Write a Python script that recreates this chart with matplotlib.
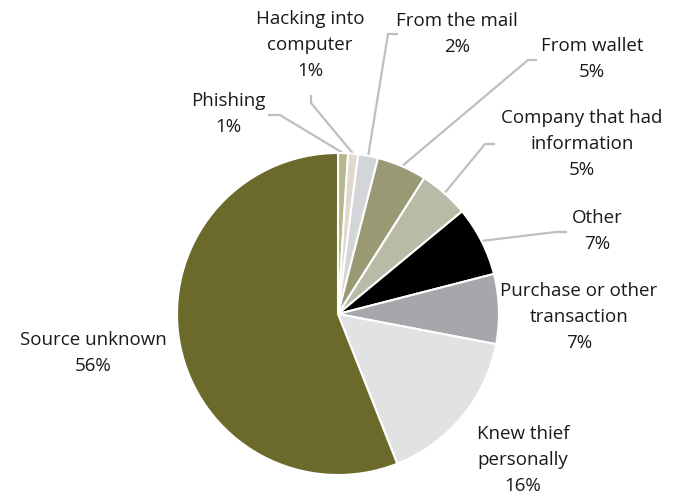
import matplotlib.pyplot as plt
import numpy as np

plt.rcParams['font.family'] = ['Open Sans', 'DejaVu Sans']

labels = ["Phishing", "Hacking into\ncomputer", "From the mail", "From wallet",
          "Company that had\ninformation", "Other", "Purchase or other\ntransaction",
          "Knew thief\npersonally", "Source unknown"]
values = [1, 1, 2, 5, 5, 7, 7, 16, 56]
colors = ["#B4B88D", "#E2D7CC", "#D4D5D8", "#999A73", "#B8BBA6",
          "#000000", "#A6A7AA", "#E1E2E4", "#6B6A2B"]

# label centres (pixels from top-left) and leader elbows
label_pos = [(228, 114), (310, 45), (457, 34), (592, 59), (582, 144),
             (597, 231), (579, 317), (523, 460), (93, 353)]
elbows = [[(280, 115), (268, 115)], [(311, 103), (311, 95)],
          [(388, 34), (398, 34)], [(528, 60), (537, 60)],
          [(485, 144), (495, 144)], [(556, 232), (567, 232)],
          None, None, None]

W, H = 681, 500
cx, cy, R = 338, 314, 161

fig = plt.figure(figsize=(W / 100, H / 100), dpi=100)
ax = fig.add_axes([0, 0, 1, 1])

wedges, _ = ax.pie(values, colors=colors, startangle=90, counterclock=False,
                   center=(cx, H - cy), radius=R,
                   wedgeprops=dict(edgecolor='white', linewidth=1.5))
ax.set_xlim(0, W)
ax.set_ylim(0, H)
ax.set_aspect('equal')
ax.axis('off')

for w, lab, val, pos, elb in zip(wedges, labels, values, label_pos, elbows):
    if elb is not None:
        mid = np.deg2rad((w.theta1 + w.theta2) / 2)
        x0 = cx + R * np.cos(mid)
        y0 = (H - cy) + R * np.sin(mid)
        xs = [x0] + [p[0] for p in elb]
        ys = [y0] + [H - p[1] for p in elb]
        ax.plot(xs, ys, color='#BFBFBF', lw=1.6, solid_capstyle='butt', zorder=0)
    ax.text(pos[0], H - pos[1], f"{lab}\n{val}%", ha='center', va='center',
            fontsize=13.5, color='#1a1a1a', linespacing=1.6)

plt.savefig('out.png', dpi=100)
